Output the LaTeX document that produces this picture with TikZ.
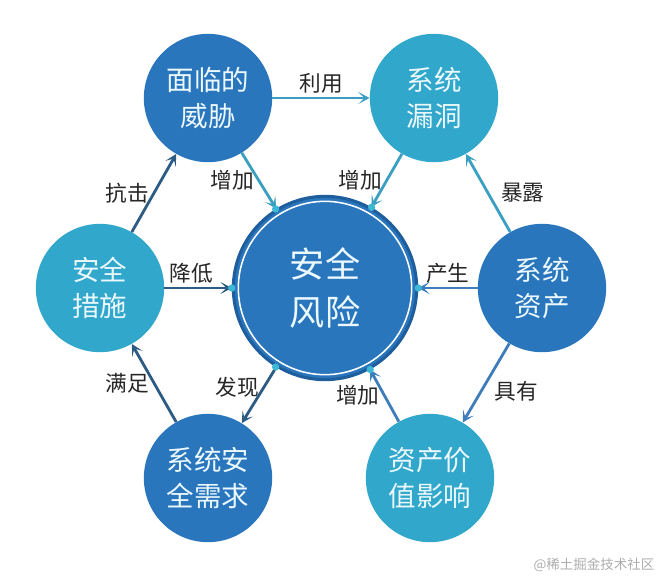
\documentclass[tikz,border=0pt]{standalone}
\usepackage{fontspec}
\setmainfont{Noto Sans CJK SC}
\usetikzlibrary{arrows.meta}

\definecolor{deepblue}{HTML}{2A76BD}
\definecolor{lightblue}{HTML}{30A7CB}
\definecolor{ringblue}{HTML}{1E5E9C}
\definecolor{navyline}{HTML}{2C5B84}
\definecolor{tealline}{HTML}{3A9FC0}
\definecolor{blueline}{HTML}{3E7DB9}
\definecolor{dotteal}{HTML}{3FB8D6}

\begin{document}
\begin{tikzpicture}[
    x=0.03cm, y=-0.03cm,
    >={Stealth[length=3.4mm, width=3.6mm, inset=1.8mm]},
    bubble/.style={circle, align=center, inner sep=0pt, minimum size=3.85cm, text=white!92!cyan, font=\fontsize{23.5}{31}\selectfont},
    deep/.style={bubble, fill=deepblue},
    light/.style={bubble, fill=lightblue},
    core/.style={circle, align=center, inner sep=0pt, minimum size=5.5cm, fill=deepblue, draw=ringblue, line width=2.6pt, text=white!92!cyan, font=\fontsize{30}{41}\selectfont},
    arrow/.style={->, line width=2.4pt},
    tag/.style={font=\fontsize{18.5}{18.5}\selectfont, text=black!85, inner sep=3pt},
    watermark/.style={font=\fontsize{11.5}{12}\selectfont, text=black!32}
  ]
    \useasboundingbox (0,0) rectangle (660,578);

    \node[core] (risk) at (325,288) {安全\\风险};
    \node[deep] (threat) at (208,98) {面临的\\威胁};
    \node[light] (vuln) at (434,98) {系统\\漏洞};
    \node[light] (measure) at (100,288) {安全\\措施};
    \node[deep] (asset) at (542,288) {系统\\资产};
    \node[deep] (req) at (208,478) {系统安\\全需求};
    \node[light] (value) at (430,478) {资产价\\值影响};
    \draw[white, line width=1.3pt] (risk.center) circle (2.6cm);

    \draw[arrow, tealline] (threat) -- node[tag, above] {利用} (vuln);
    \draw[arrow, tealline] (threat) -- node[tag, left] {增加} (risk);
    \draw[arrow, tealline] (vuln) -- node[tag, left] {增加} (risk);
    \draw[arrow, tealline] (asset) -- node[tag, right=7pt] {暴露} (vuln);
    \draw[arrow, blueline] (asset) -- node[tag, above] {产生} (risk);
    \draw[arrow, blueline] (asset) -- node[tag, right=7pt, pos=0.6] {具有} (value);
    \draw[arrow, blueline] (value) -- node[tag, left] {增加} (risk);
    \draw[arrow, navyline] (risk) -- node[tag, left, pos=0.35] {发现} (req);
    \draw[arrow, navyline] (req) -- node[tag, left] {满足} (measure);
    \draw[arrow, navyline] (measure) -- node[tag, left] {抗击} (threat);
    \draw[arrow, navyline] (measure) -- node[tag, above, pos=0.4] {降低} (risk);

    % joints on the central ring
    \foreach \a in {122,60,0,180,-61,-122}
      \fill[dotteal] (risk.\a) circle (1.1mm);

    \node[watermark] (credit) at (594,565) {@稀土掘金技术社区};
  \end{tikzpicture}
\end{document}
